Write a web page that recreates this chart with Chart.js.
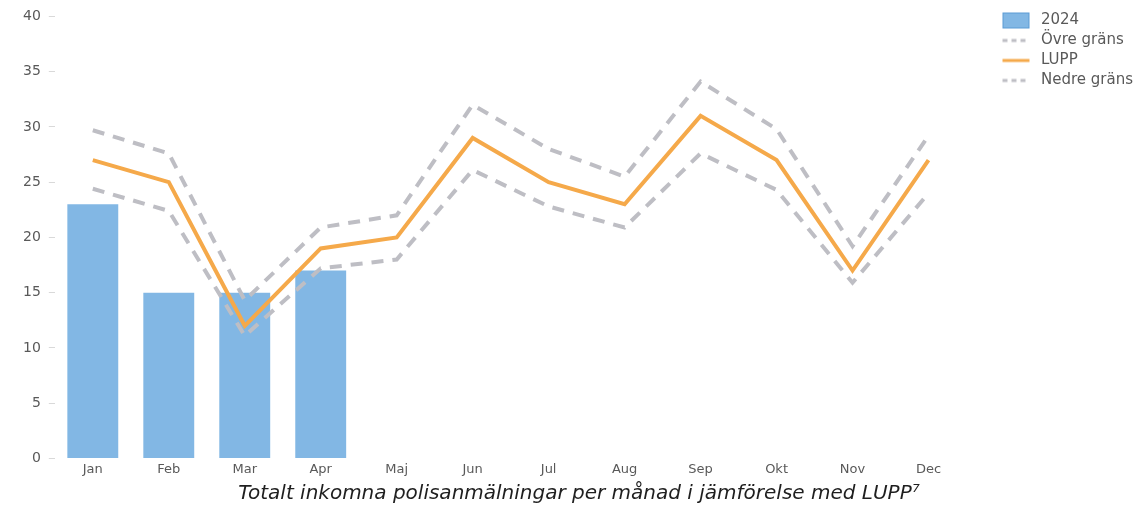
<!DOCTYPE html>
<html>
<head>
<meta charset="utf-8">
<script src="https://cdn.jsdelivr.net/npm/chart.js@4/dist/chart.umd.min.js"></script>
<style>
  html, body { margin: 0; padding: 0; background: #fff; }
  #wrap { width: 1144px; height: 509px; }
</style>
</head>
<body>
<div id="wrap"><canvas id="lppChart"></canvas></div>
<script>
// values
const months = ["Jan", "Feb", "Mar", "Apr", "Maj", "Jun", "Jul", "Aug", "Sep", "Okt", "Nov", "Dec"];
const reports2024 = [23, 15, 15, 17];
const lupp = [27, 25, 12, 19, 20, 29, 25, 23, 31, 27, 17, 27];
const upperLimit = [29.7, 27.6, 14.3, 20.9, 22, 32, 28, 25.5, 34.1, 29.8, 19.2, 29.2];
const lowerLimit = [24.4, 22.4, 11.1, 17.2, 18, 26.1, 22.8, 20.9, 27.6, 24.3, 15.9, 24];

const blue = "#82B7E4";
const orange = "#F5A94A";
const grey = "#BEBEC4";

// small pictures for the legend, with empty room on the left for spacing
function legendIcon(kind, color) {
    const c = document.createElement("canvas");
    c.width = 62; c.height = 18;
    const g = c.getContext("2d");
    if (kind === "box") {
        g.fillStyle = color;
        g.fillRect(31, 1, 27, 16);
        g.strokeStyle = "#5B9BD5";
        g.lineWidth = 1;
        g.strokeRect(31.5, 1.5, 26, 15);
    } else {
        g.strokeStyle = color;
        g.lineWidth = 3;
        if (kind === "dash") g.setLineDash([5, 4]);
        g.beginPath();
        g.moveTo(31, 9);
        g.lineTo(58, 9);
        g.stroke();
    }
    return c;
}

const ctx = document.getElementById("lppChart").getContext("2d");
new Chart(ctx, {
    type: "bar",
    data: {
        labels: months,
        datasets: [{
            type: "bar",
            label: "2024",
            data: reports2024,
            backgroundColor: blue,
            categoryPercentage: 1,
            barPercentage: 0.67,
            order: 2,
            icon: legendIcon("box", blue)
        }, {
            type: "line",
            label: "Övre gräns",
            data: upperLimit,
            borderColor: grey,
            borderWidth: 4,
            borderDash: [12, 9],
            pointRadius: 0,
            tension: 0,
            order: 1,
            icon: legendIcon("dash", grey)
        }, {
            type: "line",
            label: "LUPP",
            data: lupp,
            borderColor: orange,
            borderWidth: 4,
            pointRadius: 0,
            tension: 0,
            order: 0,
            icon: legendIcon("line", orange)
        }, {
            type: "line",
            label: "Nedre gräns",
            data: lowerLimit,
            borderColor: grey,
            borderWidth: 4,
            borderDash: [12, 9],
            pointRadius: 0,
            tension: 0,
            order: 1,
            icon: legendIcon("dash", grey)
        }]
    },
    options: {
        responsive: true,
        maintainAspectRatio: false,
        animation: false,
        layout: { padding: { top: 8, right: 1, left: 15 } },
        scales: {
            x: {
                grid: { display: false, drawTicks: false },
                border: { display: false },
                ticks: { color: "#595959", font: { family: "DejaVu Sans", size: 13 }, padding: 3 }
            },
            y: {
                min: 0,
                max: 40,
                ticks: { stepSize: 5, color: "#595959", font: { family: "DejaVu Sans", size: 14 }, padding: 8 },
                grid: { drawOnChartArea: false, tickLength: 6, color: "#D9D9D9" },
                border: { display: false }
            }
        },
        plugins: {
            legend: {
                position: "right",
                align: "start",
                labels: {
                    usePointStyle: true,
                    pointStyleWidth: 62,
                    padding: 5,
                    color: "#595959",
                    font: { family: "DejaVu Sans", size: 15 },
                    generateLabels: function(chart) {
                        return chart.data.datasets.map(function(ds, i) {
                            return {
                                text: ds.label,
                                pointStyle: ds.icon,
                                fillStyle: "transparent",
                                strokeStyle: "transparent",
                                lineWidth: 0,
                                fontColor: "#595959",
                                datasetIndex: i,
                                hidden: false
                            };
                        });
                    }
                }
            },
            title: {
                display: true,
                position: "bottom",
                text: "Totalt inkomna polisanmälningar per månad i jämförelse med LUPP⁷",
                color: "#1F1F1F",
                font: { family: "DejaVu Sans", size: 20, style: "italic", weight: "normal" },
                padding: { top: 2, bottom: 3 }
            },
            tooltip: { enabled: false }
        }
    }
});
</script>
</body>
</html>
